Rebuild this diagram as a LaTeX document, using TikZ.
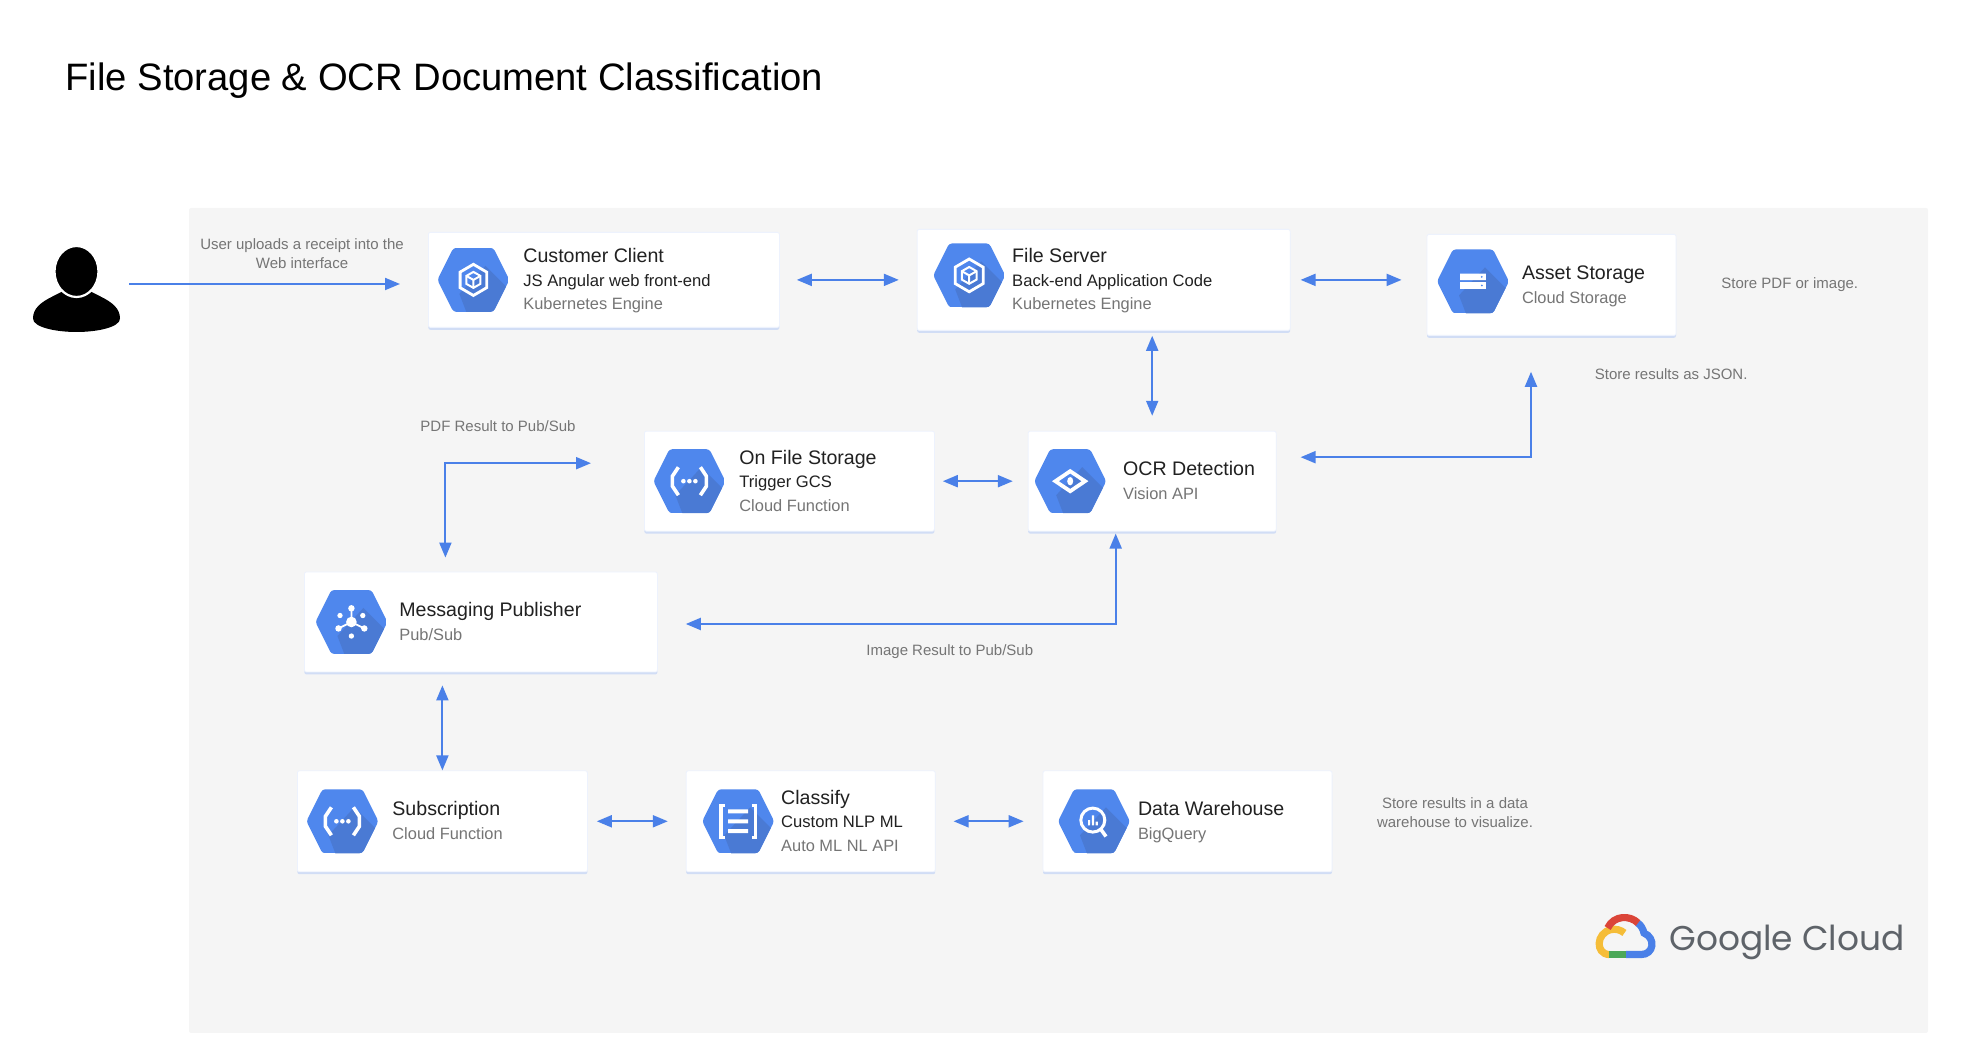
\documentclass[tikz,border=0pt]{standalone}
\usepackage{fontspec}
\setmainfont{Liberation Sans}
\newfontfamily\logofont{Poppins}
\usepackage{xcolor}
\usetikzlibrary{shadows, calc, positioning, arrows.meta}
\definecolor{gcpblue}{rgb}{0.29, 0.50, 0.91}
\definecolor{hexblue}{rgb}{0.31, 0.53, 0.93}
\definecolor{hexdark}{rgb}{0.29, 0.48, 0.83}
\definecolor{panelgrey}{rgb}{0.96, 0.96, 0.96}
\definecolor{noteink}{rgb}{0.46, 0.46, 0.46}
\definecolor{titleink}{rgb}{0.13, 0.13, 0.13}
\definecolor{logoink}{rgb}{0.37, 0.39, 0.41}
\definecolor{logored}{rgb}{0.86, 0.27, 0.22}
\definecolor{logoyellow}{rgb}{0.96, 0.74, 0.22}
\definecolor{logogreen}{rgb}{0.30, 0.66, 0.35}
\tikzset{
  card/.style={draw=gcpblue!10!white, line width=.4pt, fill=white, rounded corners=1pt, inner sep=0pt, anchor=center,
    drop shadow={shadow xshift=0pt, shadow yshift=-1.2pt, fill=gcpblue!45!white, opacity=.5}},
  hexnode/.style={minimum width=36pt, minimum height=32pt, inner sep=0pt},
  cardtitle/.style={font=\fontsize{9.8}{12}\selectfont, text=titleink, inner sep=0pt, text height=7pt, text depth=2pt},
  cardsub/.style={font=\fontsize{8.3}{10}\selectfont, text=titleink, inner sep=0pt, text height=6pt, text depth=2pt},
  cardgrey/.style={font=\fontsize{8.2}{10}\selectfont, text=noteink, inner sep=0pt, text height=6pt, text depth=2pt},
  note/.style={font=\fontsize{7.5}{9.5}\selectfont, text=noteink, inner sep=0pt, align=center},
  flow/.style={draw=gcpblue, line width=1pt, >={Triangle[length=7.5pt, width=6pt]}},
  glyph/.style={draw=white, line width=1.4pt},
  hexbase/.pic={
    \begin{scope}
    \clip [rounded corners=1.5pt] (-18,0) -- (-10,16) -- (10,16) -- (18,0) -- (10,-16) -- (-10,-16) -- cycle;
    \fill [hexblue] (-18,-16) rectangle (18,16);
    \fill [hexdark] (6,7) -- (22,-9) -- (22,-20) -- (-2,-20) -- (-7,-7) -- cycle;
    \end{scope}
  },
  kubeglyph/.pic={
    \pic {hexbase};
    \draw [glyph] (0,8.2) -- (7,4.1) -- (7,-4.1) -- (0,-8.2) -- (-7,-4.1) -- (-7,4.1) -- cycle;
    \draw [glyph, line width=1pt] (0,4.2) -- (3.7,2.1) -- (3.7,-2.1) -- (0,-4.2) -- (-3.7,-2.1) -- (-3.7,2.1) -- cycle;
    \draw [glyph, line width=1pt] (-3.7,2.1) -- (0,0) -- (3.7,2.1) (0,0) -- (0,-4.2);
  },
  funcglyph/.pic={
    \pic {hexbase};
    \draw [glyph, line width=1.8pt] (-5.5,7) -- (-8.5,2.5) -- (-8.5,-2.5) -- (-5.5,-7);
    \draw [glyph, line width=1.8pt] (5.5,7) -- (8.5,2.5) -- (8.5,-2.5) -- (5.5,-7);
    \fill [white] (-3,0) circle (1.15) (0,0) circle (1.15) (3,0) circle (1.15);
  },
  storeglyph/.pic={
    \pic {hexbase};
    \fill [white] (-6.4,.6) rectangle (6.4,3.9) (-6.4,-3.7) rectangle (6.4,-.4);
    \fill [hexblue] (4.4,2.25) circle (.5) (4.4,-2.05) circle (.5);
  },
  visionglyph/.pic={
    \pic {hexbase};
    \draw [glyph, line width=1.9pt] (-7.4,0) -- (0,5) -- (7.4,0) -- (0,-5) -- cycle;
    \fill [white] (0,0) ellipse (1.5 and 2.1);
  },
  pubglyph/.pic={
    \pic {hexbase};
    \draw [glyph, line width=.9pt] (0,0) -- (0,7.2) (0,0) -- (-6.8,-3.4) (0,0) -- (6.8,-3.4);
    \fill [white] (0,0) circle (2.8) (0,7.2) circle (1.7) (-6.8,-3.4) circle (1.7) (6.8,-3.4) circle (1.7);
    \fill [white] (-6,3.4) circle (1.4) (6,3.4) circle (1.4) (0,-7.4) circle (1.4);
  },
  nlpglyph/.pic={
    \pic {hexbase};
    \draw [glyph, line width=1.6pt] (-6.8,8) -- (-8.6,8) -- (-8.6,-8) -- (-6.8,-8);
    \draw [glyph, line width=1.6pt] (6.8,8) -- (8.6,8) -- (8.6,-8) -- (6.8,-8);
    \fill [white] (-5,3.9) rectangle (5,5.9) (-5,-1) rectangle (5,1) (-5,-5.9) rectangle (5,-3.9);
  },
  bqglyph/.pic={
    \pic {hexbase};
    \draw [glyph, line width=1.5pt] (-.6,.6) circle (6);
    \draw [glyph, line width=1.8pt] (3.4,-4) -- (6,-7.6);
    \fill [white] (-3,-2) rectangle (-1.9,.6) (-1.1,-2) rectangle (0,3) (.8,-2) rectangle (1.9,-.2);
  },
  persona/.pic={
    \fill [black] (-21.75,-14.5) .. controls (-21.75,-9.5) and (-18,-6.5) .. (-12,-3.5)
      -- (-6,-.5) -- (6,-.5) -- (12,-3.5) .. controls (18,-6.5) and (21.75,-9.5) .. (21.75,-14.5)
      .. controls (21.75,-19) and (10,-21.25) .. (0,-21.25) .. controls (-10,-21.25) and (-21.75,-19) .. (-21.75,-14.5) -- cycle;
    \fill [black, draw=white, line width=1.1pt] (0,9) ellipse (11 and 12.75);
  },
  cloudlogo/.pic={
    \draw [line width=3.6pt, draw=logoyellow] (-8.3,-9.3) .. controls (-15.5,-9) and (-15,1.5) .. (-7.5,3.2) .. controls (-5,3.7) and (-2.5,3) .. (-.8,1.5);
    \draw [line width=3.6pt, draw=logogreen] (-8.3,-9.3) -- (0,-9.3);
    \draw [line width=3.6pt, draw=gcpblue] (0,-9.3) -- (7.5,-9.3) .. controls (14,-9.3) and (15,-1) .. (9,1.5) .. controls (8.5,3.5) and (7.5,5.5) .. (5.8,6.5);
    \draw [line width=3.6pt, draw=logored] (6,6.5) .. controls (2,10.5) and (-6,10.5) .. (-9.2,4);
  }
}

\begin{document}
\begin{tikzpicture}[x=1pt, y=1pt]
        \useasboundingbox (0,0) rectangle (994,522);
        \fill [panelgrey, rounded corners=1pt] (94.5,5.5) rectangle (964,418);
        \node [inner sep=0pt, anchor=west, font=\fontsize{19.1}{23}\selectfont] (TT) at (32.5,481.5) {File Storage \& OCR Document Classification};

        % user on the left
        \node [minimum width=43.5pt, minimum height=42.5pt, inner sep=0pt] (USR) at (38.25,377.25) {};
        \pic at (USR) {persona};

        % cards, top row
        \node [card, minimum width=175.5pt, minimum height=47.5pt, anchor=north west] (CC) at (214,406) {};
        \node [hexnode, right=4.5pt of CC.west] (CCi) {}; \pic [scale=.95] at (CCi) {kubeglyph};
        \node [cardtitle, right=47.5pt of CC.west, yshift=11pt] (CCa) {Customer Client};
        \node [cardsub, right=47.5pt of CC.west, yshift=-1.25pt] (CCb) {JS Angular web front-end};
        \node [cardgrey, right=47.5pt of CC.west, yshift=-13pt] (CCc) {Kubernetes Engine};

        \node [card, minimum width=186.5pt, minimum height=50.5pt, right=68.5pt of CC] (FS) {};
        \node [hexnode, right=8pt of FS.west, yshift=2.25pt] (FSi) {}; \pic at (FSi) {kubeglyph};
        \node [cardtitle, right=47.5pt of FS.west, yshift=11pt] (FSa) {File Server};
        \node [cardsub, right=47.5pt of FS.west, yshift=-1.25pt] (FSb) {Back-end Application Code};
        \node [cardgrey, right=47.5pt of FS.west, yshift=-13pt] (FSc) {Kubernetes Engine};

        \node [card, minimum width=124.5pt, minimum height=50.5pt, right=68pt of FS, yshift=-2.5pt] (AS) {};
        \node [hexnode, right=5pt of AS.west, yshift=1.75pt] (ASi) {}; \pic at (ASi) {storeglyph};
        \node [cardtitle, right=47.5pt of AS.west, yshift=5.25pt] (ASa) {Asset Storage};
        \node [cardgrey, right=47.5pt of AS.west, yshift=-7.25pt] (ASb) {Cloud Storage};

        % cards, second row
        \node [card, minimum width=145pt, minimum height=50pt, below=51.5pt of CC.south west, anchor=north west, xshift=108pt] (OF) {};
        \node [hexnode, right=4.5pt of OF.west] (OFi) {}; \pic at (OFi) {funcglyph};
        \node [cardtitle, right=47.5pt of OF.west, yshift=11pt] (OFa) {On File Storage};
        \node [cardsub, right=47.5pt of OF.west, yshift=-1.25pt] (OFb) {Trigger GCS};
        \node [cardgrey, right=47.5pt of OF.west, yshift=-13pt] (OFc) {Cloud Function};

        \node [card, minimum width=124pt, minimum height=50pt, right=46.5pt of OF] (OCR) {};
        \node [hexnode, right=3pt of OCR.west] (OCRi) {}; \pic at (OCRi) {visionglyph};
        \node [cardtitle, right=47.5pt of OCR.west, yshift=5.25pt] (OCRa) {OCR Detection};
        \node [cardgrey, right=47.5pt of OCR.west, yshift=-7.25pt] (OCRb) {Vision API};

        % messaging card
        \node [card, minimum width=176.5pt, minimum height=50pt, below=20pt of OF.south west, anchor=north west, xshift=-170pt] (MP) {};
        \node [hexnode, right=5.5pt of MP.west] (MPi) {}; \pic [scale=.95] at (MPi) {pubglyph};
        \node [cardtitle, right=47.5pt of MP.west, yshift=5.25pt] (MPa) {Messaging Publisher};
        \node [cardgrey, right=47.5pt of MP.west, yshift=-7.25pt] (MPb) {Pub/Sub};

        % cards, bottom row
        \node [card, minimum width=145pt, minimum height=50.5pt, below=49pt of MP.south west, anchor=north west, xshift=-3.5pt] (SUB) {};
        \node [hexnode, right=4.5pt of SUB.west] (SUBi) {}; \pic at (SUBi) {funcglyph};
        \node [cardtitle, right=47.5pt of SUB.west, yshift=5.5pt] (SUBa) {Subscription};
        \node [cardgrey, right=47.5pt of SUB.west, yshift=-7pt] (SUBb) {Cloud Function};

        \node [card, minimum width=124.5pt, minimum height=50.5pt, right=49pt of SUB] (CL) {};
        \node [hexnode, right=8pt of CL.west] (CLi) {}; \pic at (CLi) {nlpglyph};
        \node [cardtitle, right=47.5pt of CL.west, yshift=11pt] (CLa) {Classify};
        \node [cardsub, right=47.5pt of CL.west, yshift=-1.25pt] (CLb) {Custom NLP ML};
        \node [cardgrey, right=47.5pt of CL.west, yshift=-13pt] (CLc) {Auto ML NL API};

        \node [card, minimum width=144.5pt, minimum height=50.5pt, right=53.5pt of CL] (DW) {};
        \node [hexnode, right=7.5pt of DW.west] (DWi) {}; \pic at (DWi) {bqglyph};
        \node [cardtitle, right=47.5pt of DW.west, yshift=5.5pt] (DWa) {Data Warehouse};
        \node [cardgrey, right=47.5pt of DW.west, yshift=-7pt] (DWb) {BigQuery};

        % connectors
        \draw [->, flow, shorten <=4.5pt, shorten >=14pt] ([yshift=2.75pt]USR.east) -- ([yshift=2.75pt]USR.east -| CC.west);
        \draw [<->, flow, shorten <=8.5pt, shorten >=9pt] (CC) -- (FS);
        \draw [<->, flow, shorten <=5pt, shorten >=12.5pt] (FS.east) -- (FS.east -| AS.west);
        \draw [<->, flow, shorten <=2.5pt, shorten >=7.5pt] (FS.south -| OCR.north) -- (OCR.north);
        \draw [<->, flow, shorten <=12pt, shorten >=18pt] ([yshift=12pt]OCR.east) -| ([xshift=-10.25pt]AS.south);
        \draw [<->, flow, shorten <=4pt, shorten >=7.5pt] (OF) -- (OCR);
        \draw [<->, flow, shorten <=26.5pt, shorten >=7pt] ([yshift=9pt]OF.west) -| ([xshift=-17.75pt]MP.north);
        \draw [<->, flow, shorten <=14pt, shorten >=1pt] ([yshift=-1pt]MP.east) -| ([xshift=-18.25pt]OCR.south);
        \draw [<->, flow, shorten <=6.5pt] (MP.south -| SUB.north) -- (SUB.north);
        \draw [<->, flow, shorten <=4.5pt, shorten >=9pt] (SUB) -- (CL);
        \draw [<->, flow, shorten <=9pt, shorten >=9.5pt] (CL) -- (DW);

        % notes beside the flow
        \node [note] (N1) at (151,395.25) {User uploads a receipt into the\\Web interface};
        \node [note] (N2) at (249,309) {PDF Result to Pub/Sub};
        \node [note, anchor=west] (N3) at (860.5,379.5) {Store PDF or image.};
        \node [note, anchor=west] (N4) at (797.25,335) {Store results as JSON.};
        \node [note, anchor=west] (N5) at (433,196) {Image Result to Pub/Sub};
        \node [note] (N6) at (727.5,115.75) {Store results in a data\\warehouse to visualize.};

        % logo
        \node [inner sep=0pt, minimum width=28pt, minimum height=23pt] (GC) at (813,54) {};
        \pic at (GC) {cloudlogo};
        \node [inner sep=0pt, right=21.5pt of GC.center, yshift=-3pt, text=logoink, font=\logofont\fontsize{17.2}{20}\selectfont] (GCt) {Google Cloud};
\end{tikzpicture}
\end{document}
